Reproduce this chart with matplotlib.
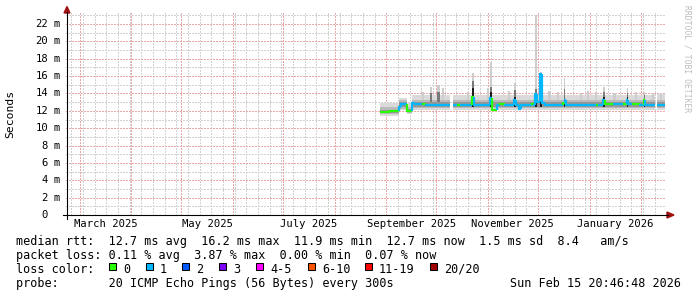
import matplotlib
matplotlib.use("Agg")
import matplotlib.pyplot as plt
import matplotlib.dates as mdates
import matplotlib.transforms as mtransforms
from matplotlib.lines import Line2D
from matplotlib.patches import Polygon, Rectangle
import numpy as np
import pandas as pd

W, H, DPI = 697, 297, 100
MONO = "DejaVu Sans Mono"

ORIGIN = pd.Timestamp("2025-09-01")          # day offsets below are from here
VIEW_START = pd.Timestamp("2025-02-20 20:46:48")
VIEW_END = pd.Timestamp("2026-02-15 20:46:48")

# median rtt (ms) as step segments: start day, value, lost pings (nan = no data)
med_start = [-3.8, 2.0, 7.8, 9.0, 12.5, 15.5, 17.0, 21.5, 24.0, 38.2, 40.0, 42.5,
             44.5, 51.5, 52.5, 62.3, 63.3, 66.5, 68.2, 71.0, 76.6, 77.6, 79.6,
             80.6, 87.5, 88.5, 89.5, 90.5, 92.5, 93.5, 95.5, 106.0, 107.0, 108.0,
             126.0, 127.0, 130.2, 131.2, 136.0, 142.0, 144.3, 145.3, 147.2, 152.0,
             154.5, 155.5, 161.5, 162.6]
med_ms = [11.85, 12.0, 12.4, 12.8, 12.0, 12.9, 12.75, 12.75, 12.7, np.nan, 12.7, 12.7,
          12.7, 13.6, 12.7, 13.5, 12.1, 12.7, 12.75, 12.7, 13.3, 12.7, 12.2,
          12.7, 12.75, 12.7, 13.9, 13.0, 16.2, 12.9, 12.7, 12.9, 13.3, 12.7,
          12.7, 12.7, 13.2, 12.8, 12.75, 12.8, 13.3, 12.8, 12.75, 12.7,
          13.2, 12.7, np.nan, 12.7]
med_loss = [0, 0, 1, 1, 0, 1, 1, 0, 1, 0, 1, 0,
            1, 0, 1, 1, 0, 1, 0, 1, 1, 1, 1,
            1, 0, 1, 1, 1, 1, 1, 1, 0, 1, 1,
            0, 1, 1, 0, 1, 0, 1, 1, 0, 1,
            0, 1, 0, 1]
data_end = 167.2

# base smoke bands (ms), step segments (nan = no data)
smoke_start = [-3.8, 7.8, 12.5, 15.5, 38.2, 40.0, 161.5, 162.6]
outer_lo = [11.45, 12.05, 11.6, 12.15, np.nan, 12.15, np.nan, 12.15]
outer_hi = [12.9, 13.5, 12.9, 13.8, np.nan, 13.8, np.nan, 13.9]
mid_lo = [11.6, 12.25, 11.75, 12.3, np.nan, 12.3, np.nan, 12.3]
mid_hi = [12.45, 13.2, 12.5, 13.3, np.nan, 13.3, np.nan, 13.3]
inner_lo = [11.7, 12.4, 11.85, 12.45, np.nan, 12.45, np.nan, 12.45]
inner_hi = [12.15, 13.0, 12.2, 13.0, np.nan, 13.0, np.nan, 13.0]

# smoke columns above the base band: day, width (days), tops (ms)
col_day = [22.0, 27.0, 31.5, 34.0, 49.0, 51.9, 61.0, 62.7, 73.5, 77.1, 90.0,
           93.0, 98.0, 103.0, 107.0, 117.0, 121.0, 126.0, 130.5, 137.0, 144.7,
           150.0, 155.0, 160.0, 165.0]
col_width = [1.5, 1.5, 1.5, 1.5, 1.2, 1.0, 1.2, 1.0, 1.2, 1.0, 1.0,
             1.0, 1.5, 1.5, 1.0, 1.5, 1.5, 1.5, 1.2, 1.5, 1.0,
             1.5, 1.0, 1.5, 1.5]
col_outer = [14.2, 14.8, 15.0, 14.6, 14.2, 16.4, 14.6, 17.6, 14.3, 15.2, 23.0,
             16.5, 14.3, 14.2, 15.8, 14.1, 14.3, 14.2, 14.8, 14.1, 14.6,
             14.2, 14.2, 14.1, 14.0]
col_mid = [np.nan, 14.1, 14.2, np.nan, np.nan, 15.4, np.nan, 14.8, np.nan, 14.4, 14.5,
           16.4, np.nan, np.nan, 14.5, np.nan, np.nan, np.nan, 14.2, np.nan, 14.0,
           np.nan, 13.8, np.nan, np.nan]
col_dark = [np.nan, np.nan, np.nan, np.nan, np.nan, 14.6, np.nan, 14.2, np.nan, 13.6, 14.0,
            16.3, np.nan, np.nan, 13.4, np.nan, np.nan, np.nan, 13.6, np.nan, 13.6,
            np.nan, 13.4, np.nan, np.nan]

y_major = [0, 2, 4, 6, 8, 10, 12, 14, 16, 18, 20, 22]
y_labels = ["0", "2", "4", "6", "8", "10", "12", "14", "16", "18", "20", "22"]
x_label_months = ["2025-03", "2025-05", "2025-07", "2025-09", "2025-11", "2026-01"]

loss_names = ["0", "1", "2", "3", "4-5", "6-10", "11-19", "20/20"]
loss_colors = ["#26ff00", "#00b8ff", "#0059ff", "#7e00ff", "#ff00ff", "#ff5500",
               "#ff0000", "#a00000"]

legend_lines = [
    "median rtt:  12.7 ms avg  16.2 ms max  11.9 ms min  12.7 ms now  1.5 ms sd  8.4   am/s",
    "packet loss: 0.11 % avg  3.87 % max  0.00 % min  0.07 % now",
    "loss color:",
    "probe:       20 ICMP Echo Pings (56 Bytes) every 300s",
]
stamp = "Sun Feb 15 20:46:48 2026"


def t(days):
    return mdates.date2num(ORIGIN) + np.asarray(days, dtype=float)


def fx(px):
    return px / W


def fy(py):
    return 1 - py / H


fig = plt.figure(figsize=(W / DPI, H / DPI), dpi=DPI)
fig.patch.set_facecolor("white")
ax = fig.add_axes([fx(66), fy(215), 600 / W, (215 - 12.5) / H])
ax.set_xlim(mdates.date2num(VIEW_START), mdates.date2num(VIEW_END))
ax.set_ylim(0, 23.33)
for s in ax.spines.values():
    s.set_visible(False)

# grid: 1px dotted, not antialiased
grid_kw = dict(lw=0.72, ls=(0, (1.4, 1.4)), antialiased=False)
for wk in pd.date_range(VIEW_START.normalize(), VIEW_END, freq="W-MON"):
    ax.axvline(mdates.date2num(wk), color="#d2d2d2", zorder=1, **grid_kw)
for v in range(1, 24, 2):
    ax.axhline(v, color="#d2d2d2", zorder=1, **grid_kw)
for ms in pd.date_range("2025-03-01", "2026-02-01", freq="MS"):
    ax.axvline(mdates.date2num(ms), color="#eba8a8", zorder=1.2, **grid_kw)
for v in y_major[1:]:
    ax.axhline(v, color="#eba8a8", zorder=1.2, **grid_kw)

# smoke base bands, one step segment at a time
smoke_ends = smoke_start[1:] + [data_end]
bands = [(outer_lo, outer_hi, "#dadada", 2), (mid_lo, mid_hi, "#bababa", 3),
         (inner_lo, inner_hi, "#969696", 4)]
for lo, hi, color, z in bands:
    for s, e, a, b in zip(smoke_start, smoke_ends, lo, hi):
        if np.isnan(a):
            continue
        ax.fill_between(t([s, e]), [a, a], [b, b], color=color, lw=0, zorder=z)

base = 12.4
cx = t(col_day)
ax.bar(cx, np.array(col_outer) - base, bottom=base, width=col_width, color="#cdcdcd",
       lw=0, zorder=2.1)
ax.bar(cx, np.array(col_mid) - base, bottom=base, width=col_width, color="#7a7a7a",
       lw=0, zorder=3.1)
ax.bar(cx, np.array(col_dark) - base, bottom=base, width=col_width, color="#1e1e1e",
       lw=0, zorder=4.1)

# median line coloured by loss
ends = med_start[1:] + [data_end]
prev = np.nan
for s, e, v, loss in zip(med_start, ends, med_ms, med_loss):
    if np.isnan(v):
        prev = np.nan
        continue
    if np.isnan(prev):
        xs, ys = [s, e], [v, v]
    else:
        xs, ys = [s, s, e], [prev, v, v]
    ax.plot(t(xs), ys, color=loss_colors[loss], lw=1.6, solid_capstyle="butt",
            solid_joinstyle="miter", zorder=5)
    prev = v

# x labels centred in the middle of every second month
lab_pos, lab_txt = [], []
for m in x_label_months:
    a = pd.Timestamp(m + "-01")
    b = a + pd.offsets.MonthBegin(1)
    lab_pos.append(mdates.date2num(a + (b - a) / 2))
    lab_txt.append(a.strftime("%B %Y"))
ax.set_xticks(lab_pos, lab_txt)
ax.tick_params(axis="x", length=0, pad=3.2, labelsize=7.6)
ax.set_yticks([])
for lab in ax.get_xticklabels():
    lab.set_family(MONO)

# y labels: number right-aligned, unit after it
num_tr = mtransforms.offset_copy(ax.get_yaxis_transform(), fig=fig, x=-18, y=0, units="dots")
unit_tr = mtransforms.offset_copy(ax.get_yaxis_transform(), fig=fig, x=-12.5, y=0, units="dots")
for v, lab in zip(y_major, y_labels):
    ax.text(0, v, lab, transform=num_tr, ha="right", va="center", family=MONO,
            fontsize=7.6, clip_on=False)
    if v != 0:
        ax.text(0, v, "m", transform=unit_tr, ha="left", va="center", family=MONO,
                fontsize=7.6, clip_on=False)

# axes lines and arrows
fig.add_artist(Line2D([fx(63), fx(668)], [fy(215), fy(215)], color="black", lw=0.8,
                      transform=fig.transFigure))
fig.add_artist(Line2D([fx(67), fx(67)], [fy(219), fy(12)], color="black", lw=0.8,
                      transform=fig.transFigure))
arrow_c = "#a01010"
fig.add_artist(Polygon([[fx(667), fy(212)], [fx(674), fy(215)], [fx(667), fy(218)]],
                       closed=True, color=arrow_c, transform=fig.transFigure))
fig.add_artist(Polygon([[fx(64), fy(13)], [fx(67), fy(6.5)], [fx(70), fy(13)]],
                       closed=True, color=arrow_c, transform=fig.transFigure))

fig.text(fx(10), fy(113.5), "Seconds", rotation=90, ha="center", va="center",
         family=MONO, fontsize=8.2)
fig.text(fx(687), fy(5), "RRDTOOL / TOBI OETIKER", rotation=270, ha="center", va="top",
         family=MONO, fontsize=5.8, color="#bdbdbd")

# legend block
baselines = [245.5, 259.5, 273, 287]
for line, yb in zip(legend_lines, baselines):
    fig.text(fx(16), fy(yb), line, ha="left", va="baseline", family=MONO, fontsize=8.5)
fig.text(fx(681), fy(287), stamp, ha="right", va="baseline", family=MONO, fontsize=8.5)

box_x = [109, 145.7, 182.3, 219.3, 256, 308, 365, 430]
for bx, name, c in zip(box_x, loss_names, loss_colors):
    fig.add_artist(Rectangle((fx(bx), fy(270)), 7 / W, 7 / H, facecolor=c,
                             edgecolor="black", lw=0.75, transform=fig.transFigure))
    fig.text(fx(bx + 14), fy(273), name, ha="left", va="baseline", family=MONO,
             fontsize=8.5)

fig.savefig("out.png", dpi=DPI, facecolor="white")
